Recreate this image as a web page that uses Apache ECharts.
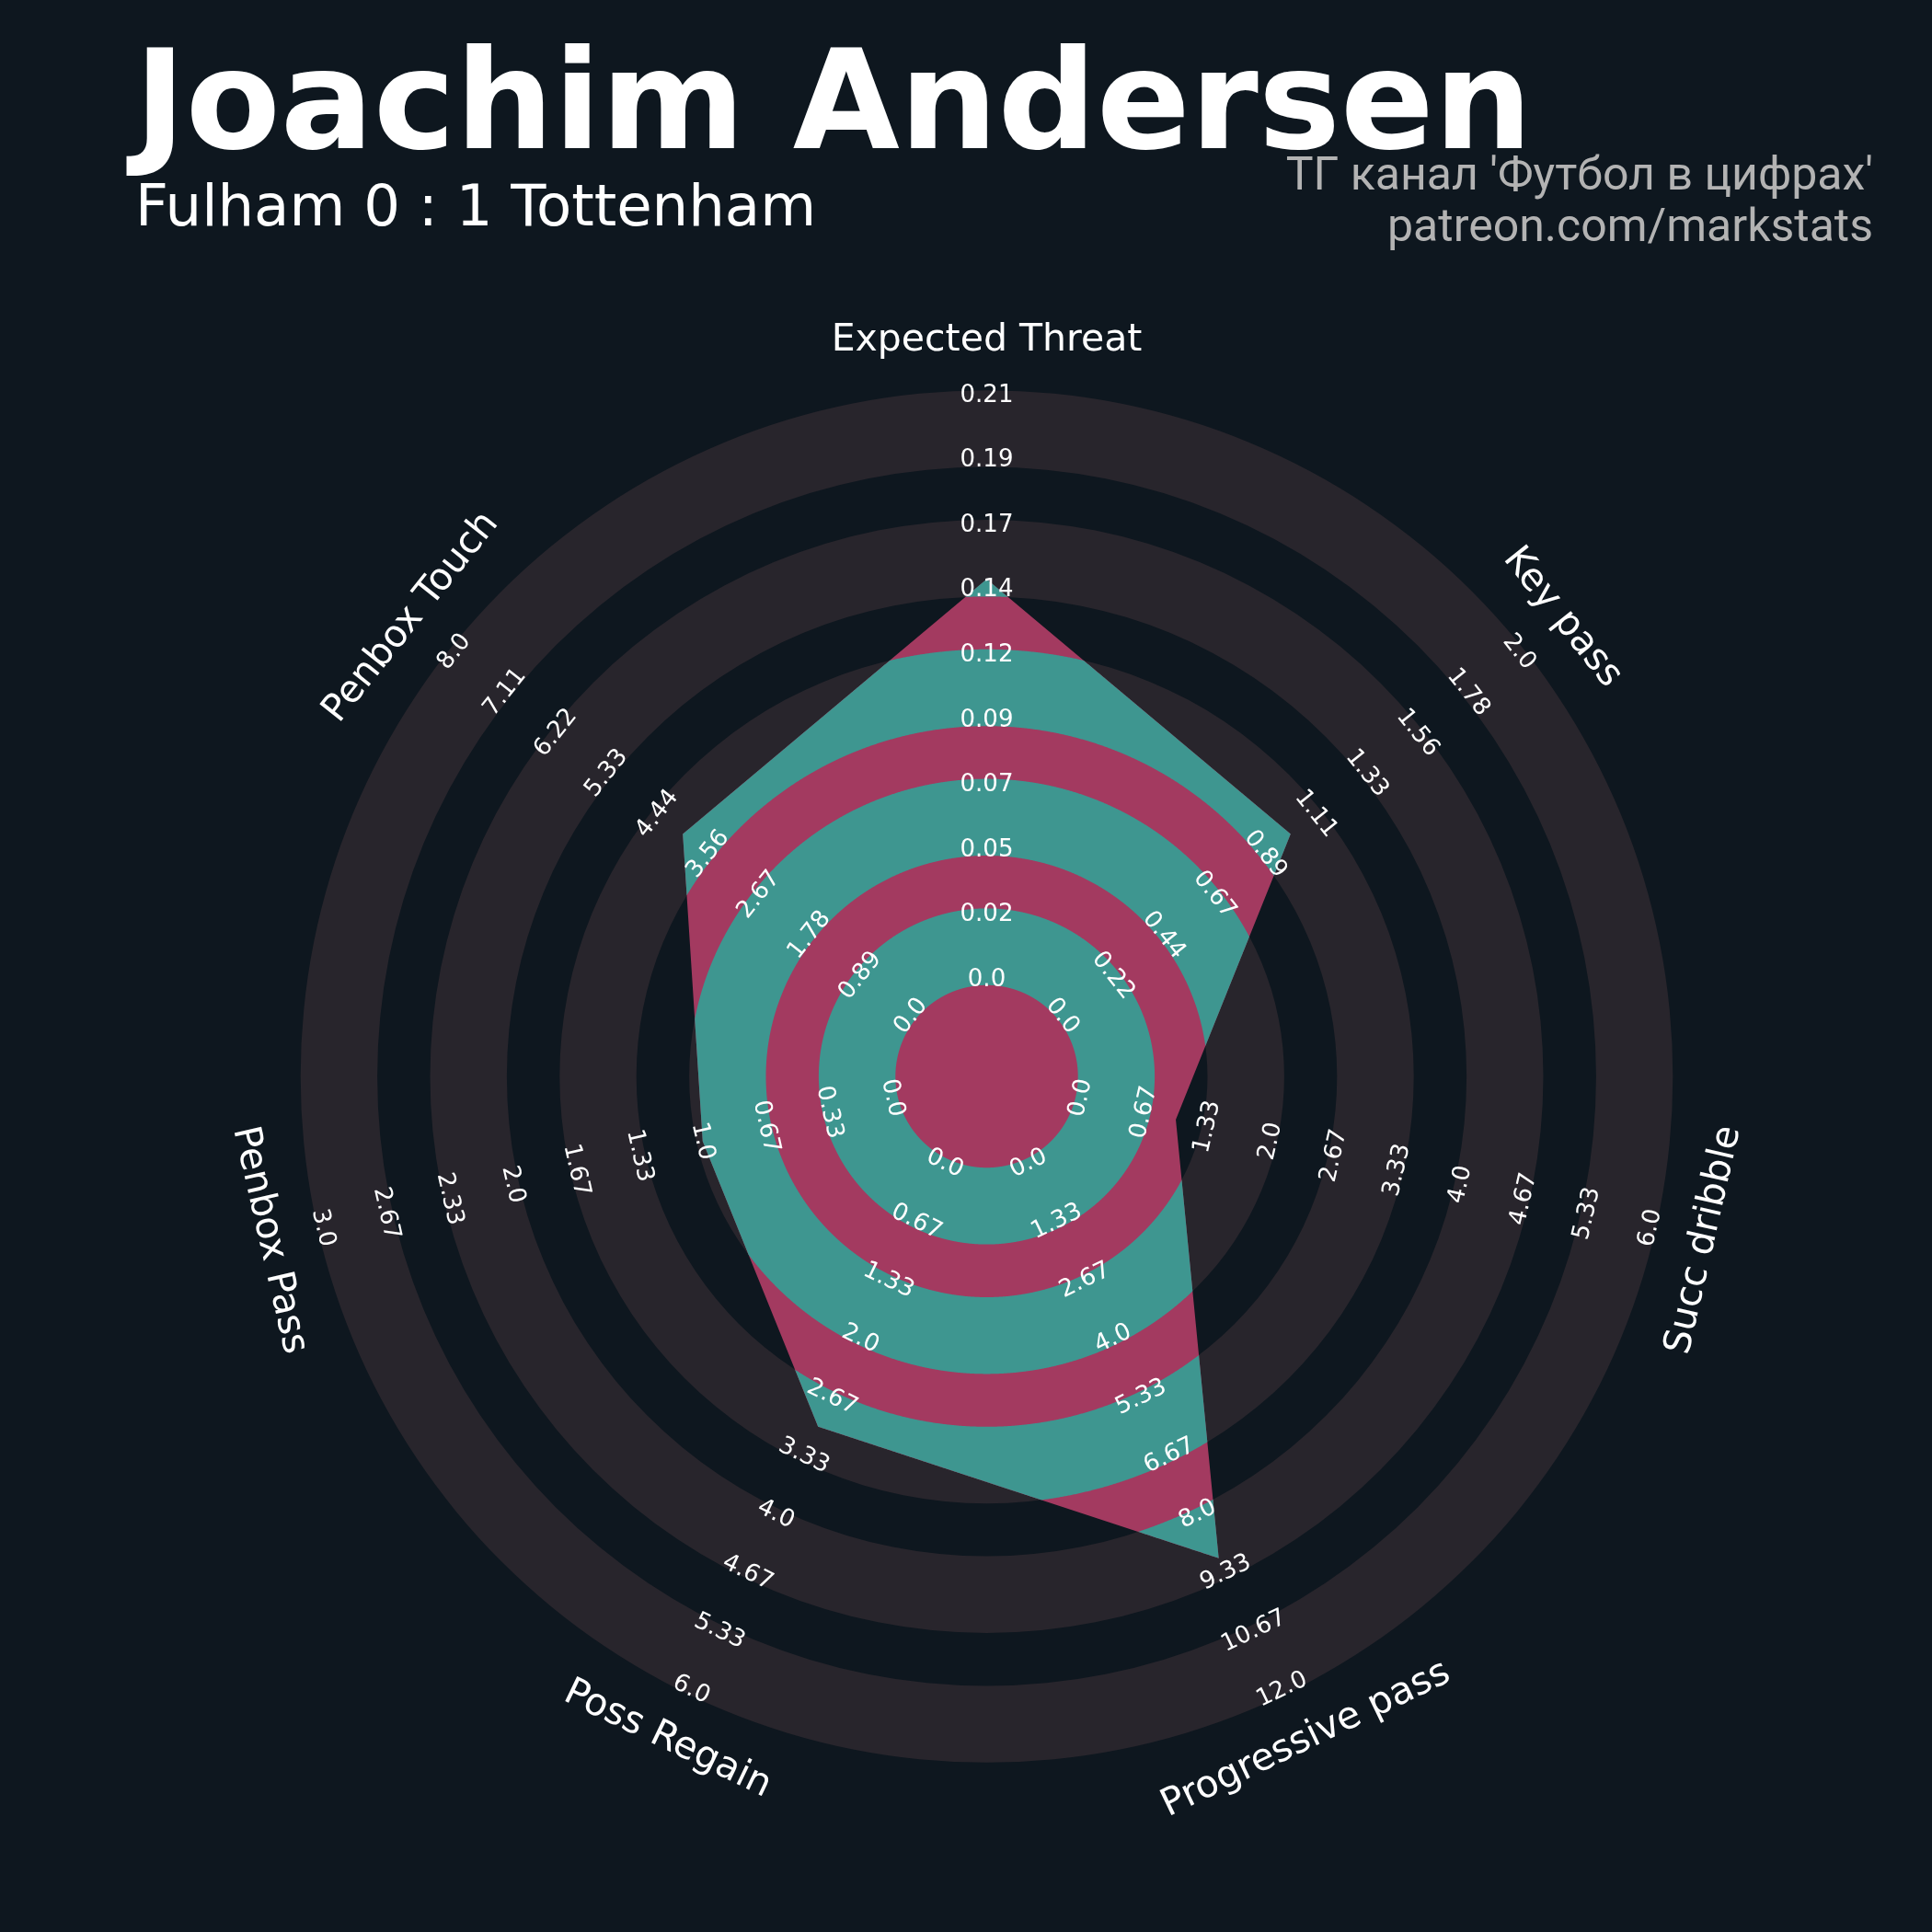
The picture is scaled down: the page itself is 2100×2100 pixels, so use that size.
<!DOCTYPE html>
<html><head><meta charset="utf-8">
<script src="https://cdn.jsdelivr.net/npm/echarts@6/dist/echarts.min.js"></script>
<style>html,body{margin:0;padding:0;background:#0e171f}#c{width:2100px;height:2100px}</style>
</head><body><div id="c"></div>
<script>
// ---------------- data ----------------
const PARAMS = ['Expected Threat', 'Key pass', 'Succ dribble', 'Progressive pass', 'Poss Regain', 'Penbox Pass', 'Penbox Touch'];
const MIN_RANGE = [0, 0, 0, 0, 0, 0, 0];
const MAX_RANGE = [0.21, 2.0, 6.0, 12.0, 6.0, 3.0, 8.0];
const VALUES = [0.144, 1, 1, 9, 3, 1, 4];
const RANGE_LABELS = [
  ['0.0', '0.02', '0.05', '0.07', '0.09', '0.12', '0.14', '0.17', '0.19', '0.21'],
  ['0.0', '0.22', '0.44', '0.67', '0.89', '1.11', '1.33', '1.56', '1.78', '2.0'],
  ['0.0', '0.67', '1.33', '2.0', '2.67', '3.33', '4.0', '4.67', '5.33', '6.0'],
  ['0.0', '1.33', '2.67', '4.0', '5.33', '6.67', '8.0', '9.33', '10.67', '12.0'],
  ['0.0', '0.67', '1.33', '2.0', '2.67', '3.33', '4.0', '4.67', '5.33', '6.0'],
  ['0.0', '0.33', '0.67', '1.0', '1.33', '1.67', '2.0', '2.33', '2.67', '3.0'],
  ['0.0', '0.89', '1.78', '2.67', '3.56', '4.44', '5.33', '6.22', '7.11', '8.0']
];
const TITLE = 'Joachim Andersen';
const SUBTITLE = 'Fulham 0 : 1 Tottenham';
const CREDITS = ["ТГ канал 'Футбол в цифрах'", 'patreon.com/markstats'];

// ---------------- layout / style ----------------
const BG = '#0e171f', RING_COLOR = '#28252c', RADAR_COLOR = '#a33a60', RINGS_IN_COLOR = '#3e9690';
const CX = 1072.5, CY = 1170, OUTER = 745.8;
const CENTER_R = 99.2, RING_W = 83.4, GAP_W = 57.4, NUM_RINGS = 5;
const VAL_R0 = 105, VAL_R1 = 740, PARAM_R = 800;
const N = PARAMS.length, STEP = 360 / N;

function valueRadius(i, v) {
  return VAL_R0 + (v - MIN_RANGE[i]) / (MAX_RANGE[i] - MIN_RANGE[i]) * (VAL_R1 - VAL_R0);
}
function textRot(phi) {
  phi = ((phi % 360) + 360) % 360;
  const d = (phi > 90 && phi < 270) ? 180 - phi : -phi;
  return d * Math.PI / 180;
}

function renderItem(params, api) {
  const c0 = api.coord([0, 0]);
  const pxR = r => { const p = api.coord([r, 0]); return Math.hypot(p[0] - c0[0], p[1] - c0[1]); };
  const children = [];
  // background rings
  for (let k = 0; k < NUM_RINGS; k++) {
    const a = CENTER_R + k * (RING_W + GAP_W), b = a + RING_W;
    children.push({ type: 'ring', shape: { cx: c0[0], cy: c0[1], r0: pxR(a), r: pxR(b) }, style: { fill: RING_COLOR } });
  }
  // radar polygon
  const vr = VALUES.map((v, i) => valueRadius(i, v));
  children.push({ type: 'polygon', shape: { points: vr.map((r, i) => api.coord([r, i * STEP])) }, style: { fill: RADAR_COLOR } });
  // polygon radius as function of angle (data units)
  const verts = vr.map((r, i) => { const t = i * STEP * Math.PI / 180; return [r * Math.sin(t), r * Math.cos(t)]; });
  const cr = (a, b) => a[0] * b[1] - a[1] * b[0];
  const samples = [];
  const M = 400;
  for (let i = 0; i < N; i++) {
    const P = verts[i], Q = verts[(i + 1) % N], e = [Q[0] - P[0], Q[1] - P[1]];
    for (let j = 0; j <= M; j++) {
      if (j === M && i < N - 1) continue;
      const th = (i + j / M) * STEP, t = th * Math.PI / 180;
      const d = [Math.sin(t), Math.cos(t)];
      samples.push([th, cr(P, e) / cr(d, e)]);
    }
  }
  // rings clipped to polygon
  for (let k = 0; k < NUM_RINGS; k++) {
    const a = CENTER_R + k * (RING_W + GAP_W), b = a + RING_W;
    const outer = samples.map(s => api.coord([Math.min(b, Math.max(a, s[1])), s[0]]));
    const inner = samples.slice().reverse().map(s => api.coord([a, s[0]]));
    children.push({ type: 'polygon', shape: { points: outer.concat(inner) }, style: { fill: RINGS_IN_COLOR } });
  }
  // range labels
  for (let i = 0; i < N; i++) {
    const phi = i * STEP, rot = textRot(phi);
    RANGE_LABELS[i].forEach((lab, k) => {
      const v = MIN_RANGE[i] + k / (RANGE_LABELS[i].length - 1) * (MAX_RANGE[i] - MIN_RANGE[i]);
      const p = api.coord([valueRadius(i, v), phi]);
      children.push({ type: 'text', x: p[0], y: p[1], rotation: rot,
        style: { text: lab, fill: '#ffffff', font: '26px "DejaVu Sans"', align: 'center', verticalAlign: 'middle' } });
    });
    const pp = api.coord([PARAM_R, phi]);
    children.push({ type: 'text', x: pp[0], y: pp[1], rotation: rot,
      style: { text: PARAMS[i], fill: '#ffffff', font: '41px "DejaVu Sans"', align: 'center', verticalAlign: 'middle' } });
  }
  return { type: 'group', children };
}

const chart = echarts.init(document.getElementById('c'), null, { renderer: 'canvas', width: 2100, height: 2100 });
chart.setOption({
  backgroundColor: BG,
  animation: false,
  polar: { center: [CX, CY], radius: OUTER },
  angleAxis: { type: 'value', min: 0, max: 360, startAngle: 90, clockwise: true,
    axisLine: { show: false }, axisTick: { show: false }, axisLabel: { show: false }, splitLine: { show: false } },
  radiusAxis: { type: 'value', min: 0, max: OUTER,
    axisLine: { show: false }, axisTick: { show: false }, axisLabel: { show: false }, splitLine: { show: false } },
  series: [{ type: 'custom', coordinateSystem: 'polar', clip: false, silent: true, data: [[0, 0]], renderItem }],
  graphic: [
    { type: 'text', x: 146, y: 122, style: { text: TITLE, font: 'bold 150px "DejaVu Sans"', fill: '#ffffff', align: 'left', verticalAlign: 'middle' } },
    { type: 'text', x: 147, y: 229, style: { text: SUBTITLE, font: '62.5px "DejaVu Sans"', fill: '#ffffff', align: 'left', verticalAlign: 'middle' } },
    { type: 'text', x: 2036, y: 193, style: { text: CREDITS[0], font: '50px Roboto', fill: '#b3b3b3', align: 'right', verticalAlign: 'middle' } },
    { type: 'text', x: 2036, y: 249, style: { text: CREDITS[1], font: '50px Roboto', fill: '#b3b3b3', align: 'right', verticalAlign: 'middle' } }
  ]
});
</script>
</body></html>
